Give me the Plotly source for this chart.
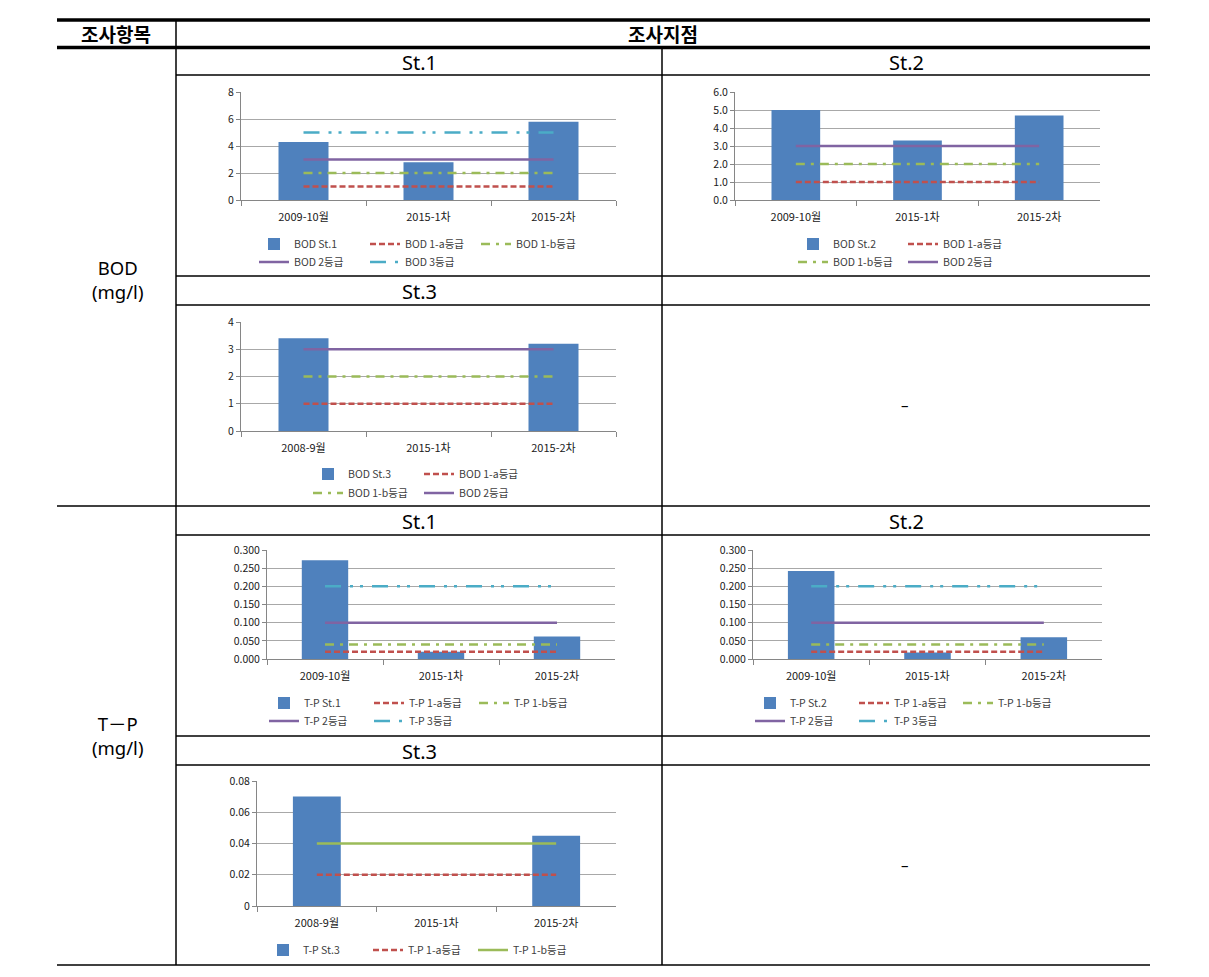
import plotly.graph_objects as go

W, H = 1209, 977
PAGE_PAD = 8  # the page body adds this much on the left and top
FONT = "Noto Sans CJK KR"
LATIN = "Noto Sans, Noto Sans CJK KR"

# 조사 시기 (x축 범주)
months_a = ["2009-10월", "2015-1차", "2015-2차"]
months_b = ["2008-9월", "2015-1차", "2015-2차"]

# 지점별 측정값 (mg/l)
bod_st1 = [4.3, 2.8, 5.8]
bod_st2 = [5.0, 3.3, 4.7]
bod_st3 = [3.4, None, 3.2]
tp_st1 = [0.272, 0.02, 0.062]
tp_st2 = [0.242, 0.018, 0.06]
tp_st3 = [0.07, None, 0.045]

# 하천 생활환경기준
bod_1a = [1, 1, 1]
bod_1b = [2, 2, 2]
bod_2 = [3, 3, 3]
bod_3 = [5, 5, 5]
tp_1a = [0.02, 0.02, 0.02]
tp_1b = [0.04, 0.04, 0.04]
tp_2 = [0.1, 0.1, 0.1]
tp_3 = [0.2, 0.2, 0.2]

# line looks for each grade
STYLE = {
    "1a": dict(color="#C0504D", dash="6px,3px"),
    "1b": dict(color="#9BBB59", dash="9px,6px,3px,6px"),
    "1b_solid": dict(color="#9BBB59", dash="solid"),
    "2": dict(color="#8064A2", dash="solid"),
    "3": dict(color="#4BACC6", dash="16px,9px,3px,7px,3px,9px"),
}

# each chart: bar series, line series, items per legend row,
# plot box in px (x0, x1, y0, y1), legend (text start x, row centres, item pitch)
charts = [
    dict(x=months_a, bar=("BOD St.1", bod_st1),
         lines=[("BOD 1-a등급", bod_1a, "1a"), ("BOD 1-b등급", bod_1b, "1b"),
                ("BOD 2등급", bod_2, "2"), ("BOD 3등급", bod_3, "3")],
         rows=[3, 2], box=(241, 616, 92, 200), yrange=[0, 8], dtick=2, fmt="",
         leg=(297, [244, 262], 106)),
    dict(x=months_a, bar=("BOD St.2", bod_st2),
         lines=[("BOD 1-a등급", bod_1a, "1a"), ("BOD 1-b등급", bod_1b, "1b"),
                ("BOD 2등급", bod_2, "2")],
         rows=[2, 2], box=(735, 1100, 92, 200), yrange=[0, 6], dtick=1, fmt=".1f",
         leg=(836, [244, 262], 105)),
    dict(x=months_b, bar=("BOD St.3", bod_st3),
         lines=[("BOD 1-a등급", bod_1a, "1a"), ("BOD 1-b등급", bod_1b, "1b"),
                ("BOD 2등급", bod_2, "2")],
         rows=[2, 2], box=(241, 616, 322, 431), yrange=[0, 4], dtick=1, fmt="",
         leg=(351, [474, 493], 106)),
    dict(x=months_a, bar=("T-P St.1", tp_st1),
         lines=[("T-P 1-a등급", tp_1a, "1a"), ("T-P 1-b등급", tp_1b, "1b"),
                ("T-P 2등급", tp_2, "2"), ("T-P 3등급", tp_3, "3")],
         rows=[3, 2], box=(267, 615, 550, 659), yrange=[0, 0.3], dtick=0.05, fmt=".3f",
         leg=(307, [703, 721], 100)),
    dict(x=months_a, bar=("T-P St.2", tp_st2),
         lines=[("T-P 1-a등급", tp_1a, "1a"), ("T-P 1-b등급", tp_1b, "1b"),
                ("T-P 2등급", tp_2, "2"), ("T-P 3등급", tp_3, "3")],
         rows=[3, 2], box=(753, 1102, 550, 659), yrange=[0, 0.3], dtick=0.05, fmt=".3f",
         leg=(793, [703, 721], 99)),
    dict(x=months_b, bar=("T-P St.3", tp_st3),
         lines=[("T-P 1-a등급", tp_1a, "1a"), ("T-P 1-b등급", tp_1b, "1b_solid")],
         rows=[3], box=(257, 616, 781, 906), yrange=[0, 0.08], dtick=0.02, fmt="",
         leg=(306, [950], 100)),
]


def fx(px):
    return (px - PAGE_PAD) / W


def fy(py):
    return 1 - (py - PAGE_PAD) / H


fig = go.Figure()
layout = {}
legend_no = 0

for i, c in enumerate(charts, start=1):
    xa, ya = f"x{i}", f"y{i}"
    x0, x1, y0, y1 = c["box"]
    text_x, row_ys, pitch = c["leg"]

    # one horizontal legend per row
    row_legends = []
    for ly in row_ys:
        legend_no += 1
        name = "legend" if legend_no == 1 else f"legend{legend_no}"
        row_legends.append(name)
        layout[name] = dict(
            x=fx(text_x - 43), y=fy(ly), xanchor="left", yanchor="middle",
            orientation="h", entrywidth=pitch - 40, entrywidthmode="pixels",
            font=dict(family=FONT, size=10.5, color="#404040"),
            bgcolor="rgba(0,0,0,0)", itemwidth=30, tracegroupgap=0,
        )

    slots = []
    for r, n in enumerate(c["rows"]):
        slots += [row_legends[min(r, len(row_legends) - 1)]] * n

    fig.add_trace(go.Bar(
        x=c["x"], y=c["bar"][1], name=c["bar"][0], width=0.4,
        marker=dict(color="#4F81BD", line=dict(width=0)),
        xaxis=xa, yaxis=ya, legend=slots[0],
    ))
    for k, (nm, vals, st) in enumerate(c["lines"], start=1):
        fig.add_trace(go.Scatter(
            x=c["x"], y=vals, name=nm, mode="lines",
            line=dict(width=2.5, **STYLE[st]),
            xaxis=xa, yaxis=ya, legend=slots[k],
        ))

    key = "" if i == 1 else str(i)
    layout[f"xaxis{key}"] = dict(
        domain=[fx(x0), fx(x1)], anchor=ya, type="category", range=[-0.5, 2.5],
        showline=True, linecolor="#868686", linewidth=1,
        ticks="outside", tickson="boundaries", ticklen=5, tickcolor="#868686",
        showgrid=False, ticklabelstandoff=7,
        tickfont=dict(family=FONT, size=11, color="#202020"), fixedrange=True,
    )
    layout[f"yaxis{key}"] = dict(
        domain=[fy(y1), fy(y0)], anchor=xa, range=c["yrange"], dtick=c["dtick"],
        tickformat=c["fmt"], showline=True, linecolor="#868686", linewidth=1,
        ticks="outside", ticklen=4, tickcolor="#868686",
        showgrid=True, gridcolor="#A8A8A8", gridwidth=1, zeroline=False,
        tickfont=dict(family=FONT, size=10.5, color="#202020"), fixedrange=True,
    )

# table rules
L, M, R, RIGHT = 57, 176, 662, 1150
rules = [
    (L, RIGHT, 20, 20, 3.5), (L, RIGHT, 47.5, 47.5, 3.5),
    (M, RIGHT, 75, 75, 1.5), (M, RIGHT, 276, 276, 1.5), (M, RIGHT, 305, 305, 1.5),
    (L, RIGHT, 506, 506, 1.5), (M, RIGHT, 535, 535, 1.5), (M, RIGHT, 736, 736, 1.5),
    (M, RIGHT, 765, 765, 1.5), (L, RIGHT, 965, 965, 1.5),
    (M, M, 20, 965, 1.5), (R, R, 48, 965, 1.5),
]
shapes = [dict(type="line", xref="paper", yref="paper", x0=fx(a), x1=fx(b), y0=fy(c), y1=fy(d),
               line=dict(color="black", width=w)) for a, b, c, d, w in rules]

# table text
cells = [
    ("<b>조사항목</b>", 116, 34, 19, FONT), ("<b>조사지점</b>", 663, 34, 19, FONT),
    ("St.1", 419, 62, 20, LATIN), ("St.2", 906, 62, 20, LATIN), ("St.3", 419, 291, 20, LATIN),
    ("St.1", 419, 521, 20, LATIN), ("St.2", 906, 521, 20, LATIN), ("St.3", 419, 751, 20, LATIN),
    ("BOD<br>(mg/l)", 117, 279, 18.5, LATIN),
    ("T－P<br>(mg/l)", 117, 735, 18.5, LATIN),
    ("–", 905, 405, 15, LATIN), ("–", 905, 865, 15, LATIN),
]
annotations = [dict(text=t, x=fx(x), y=fy(y), xref="paper", yref="paper", showarrow=False,
                    xanchor="center", yanchor="middle",
                    font=dict(family=f, size=s, color="black")) for t, x, y, s, f in cells]

fig.update_layout(
    width=W, height=H, margin=dict(l=0, r=0, t=0, b=0, autoexpand=False),
    paper_bgcolor="white", plot_bgcolor="white",
    font=dict(family=FONT), shapes=shapes, annotations=annotations,
    showlegend=True, **layout,
)

fig.write_html("out.html")
